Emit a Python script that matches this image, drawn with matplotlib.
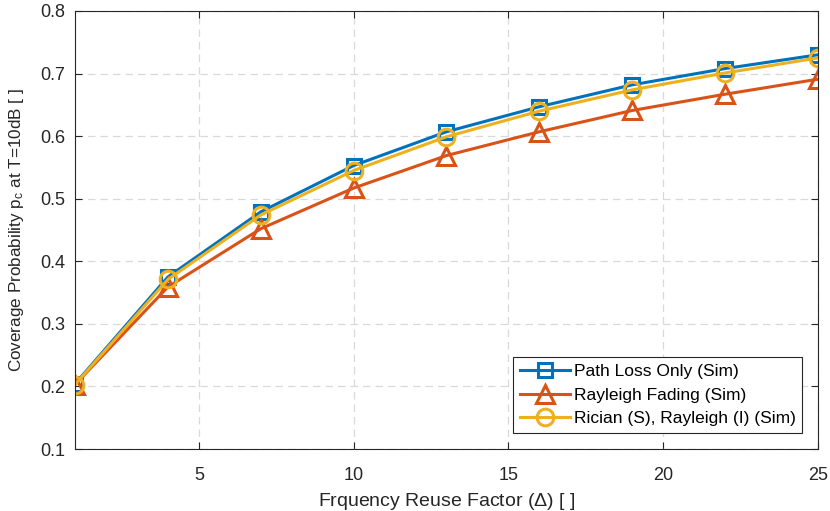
import matplotlib
matplotlib.use("Agg")
import matplotlib.pyplot as plt

reuse_factor = [1, 4, 7, 10, 13, 16, 19, 22, 25]
path_loss_only = [0.204, 0.375, 0.479, 0.553, 0.607, 0.647, 0.682, 0.708, 0.730]
rayleigh_fading = [0.203, 0.359, 0.452, 0.517, 0.569, 0.607, 0.641, 0.667, 0.691]
rician_rayleigh = [0.203, 0.371, 0.474, 0.545, 0.599, 0.640, 0.674, 0.701, 0.725]

x_ticks = [5, 10, 15, 20, 25]
y_ticks = [0.1, 0.2, 0.3, 0.4, 0.5, 0.6, 0.7, 0.8]

plt.rcParams['font.family'] = ['Liberation Sans', 'DejaVu Sans']
plt.rcParams['mathtext.fontset'] = 'custom'
plt.rcParams['mathtext.rm'] = 'Liberation Sans'
plt.rcParams['mathtext.it'] = 'Liberation Sans'

fig = plt.figure(figsize=(8.3, 5.11), dpi=100)
ax = fig.add_axes([0.0904, 0.1213, 0.8951, 0.8572])

ax.plot(reuse_factor, path_loss_only, color=(0, 0.447, 0.741), lw=2.2, marker='s',
        ms=10, mfc='none', mew=2.2, label='Path Loss Only (Sim)')
ax.plot(reuse_factor, rayleigh_fading, color=(0.85, 0.325, 0.098), lw=2.2, marker='^',
        ms=12.5, mfc='none', mew=2.2, label='Rayleigh Fading (Sim)')
ax.plot(reuse_factor, rician_rayleigh, color=(0.929, 0.694, 0.125), lw=2.2, marker='o',
        ms=12, mfc='none', mew=2.2, label='Rician (S), Rayleigh (I) (Sim)')

ax.set_xlim(1, 25)
ax.set_ylim(0.1, 0.8)
ax.set_xticks(x_ticks)
ax.set_yticks(y_ticks)
ax.set_yticklabels([f"{v:.1f}" for v in y_ticks])
ax.grid(True, ls=(0, (6, 4)), color='#d9d9d9', lw=0.9)
ax.tick_params(direction='in', length=5, labelsize=13, color='#262626', labelcolor='#262626')
ax.tick_params(axis='x', pad=13)
ax.tick_params(axis='y', pad=7)
ax.tick_params(top=True, right=True)
for s in ax.spines.values():
    s.set_color('#262626')
    s.set_linewidth(0.8)

ax.set_xlabel(r'Frquency Reuse Factor ($\Delta$) [ ]', fontsize=14, color='#262626', labelpad=5)
ax.set_ylabel(r'Coverage Probability p$_\mathrm{c}$ at T=10dB [ ]', fontsize=12.3, color='#262626')
ax.yaxis.set_label_coords(-0.066, 0.5)

leg = ax.legend(loc='lower right', fontsize=12.5, fancybox=False, framealpha=1,
                edgecolor='#262626', borderaxespad=0.9, handlelength=2.9,
                handletextpad=0.2, borderpad=0.4, labelspacing=0.5)
leg.get_frame().set_linewidth(0.8)

fig.savefig('out.png', dpi=100)
